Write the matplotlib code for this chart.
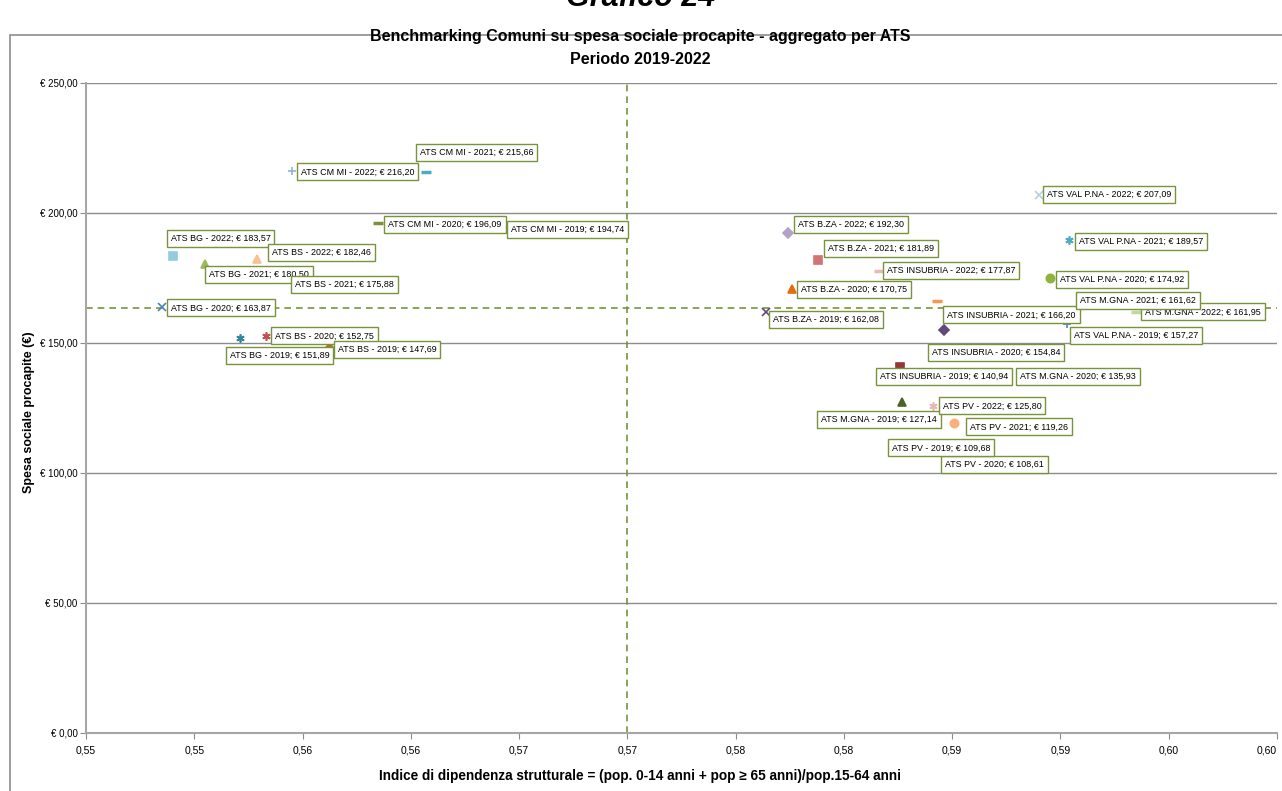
import matplotlib
matplotlib.use("Agg")
import matplotlib.pyplot as plt
from matplotlib.patches import Rectangle

plt.rcParams['font.family'] = ['Liberation Sans', 'DejaVu Sans']

# data: one point per ATS and year
ats_names = ["ATS CM MI", "ATS CM MI", "ATS CM MI", "ATS CM MI",
             "ATS BG", "ATS BG", "ATS BG", "ATS BG",
             "ATS BS", "ATS BS", "ATS BS", "ATS BS",
             "ATS B.ZA", "ATS B.ZA", "ATS B.ZA", "ATS B.ZA",
             "ATS INSUBRIA", "ATS INSUBRIA", "ATS INSUBRIA", "ATS INSUBRIA",
             "ATS VAL P.NA", "ATS VAL P.NA", "ATS VAL P.NA", "ATS VAL P.NA",
             "ATS M.GNA", "ATS M.GNA", "ATS M.GNA", "ATS M.GNA",
             "ATS PV", "ATS PV", "ATS PV", "ATS PV"]
years = [2022, 2021, 2020, 2019] * 8
indice = [0.5545, 0.5607, 0.5585, 0.5641,
          0.5490, 0.5505, 0.5485, 0.5521,
          0.5529, 0.5542, 0.5533, 0.5562,
          0.5774, 0.5788, 0.5776, 0.5764,
          0.5816, 0.5843, 0.5846, 0.5826,
          0.5890, 0.5904, 0.5895, 0.5903,
          0.5935, 0.5902, 0.5867, 0.5827,
          0.5841, 0.5851, 0.5842, 0.5829]
spesa = [216.20, 215.66, 196.09, 194.74,
         183.57, 180.50, 163.87, 151.89,
         182.46, 175.88, 152.75, 147.69,
         192.30, 181.89, 170.75, 162.08,
         177.87, 166.20, 154.84, 140.94,
         207.09, 189.57, 174.92, 157.27,
         161.95, 161.62, 135.93, 127.14,
         125.80, 119.26, 108.61, 109.68]

ref_x = 0.570
ref_y = 163.3

xticks = [0.545, 0.550, 0.555, 0.560, 0.565, 0.570, 0.575, 0.580, 0.585, 0.590, 0.595, 0.600]
xtick_labels = ["0,55", "0,55", "0,56", "0,56", "0,57", "0,57", "0,58", "0,58", "0,59", "0,59", "0,60", "0,60"]
yticks = [0, 50, 100, 150, 200, 250]

# styles
ast = (6, 2, 0)
markers = ['+', '_', '_', 'D',
           's', '^', 'x', ast,
           '^', ast, ast, 'o',
           'D', 's', '^', 'x',
           '_', '_', 'D', 's',
           'x', ast, 'o', '+',
           '_', 'D', 's', '^',
           ast, 'o', '|', '_']
colors = ['#95B3D7', '#4BACC6', '#77933C', '#376092',
          '#93CDDD', '#9BBB59', '#4F81BD', '#31859C',
          '#FAC090', '#B3A2C7', '#C0504D', '#B8692A',
          '#B3A2C7', '#D07573', '#E46C0A', '#604A7B',
          '#E6B9B8', '#F79646', '#604A7B', '#953735',
          '#B9CDE5', '#4BACC6', '#8DB43E', '#4F81BD',
          '#C3D69B', '#4F81BD', '#31859C', '#4F6228',
          '#E6B9B8', '#FAB07A', '#604A7B', '#C0504D']
# label offsets (pixels: box left from marker, box centre above marker)
offsets = [(6, -1), (-9, 20), (7, -1), (8, -3),
           (-5, 17), (1, -11), (6, -1), (-13, -17),
           (12, 6), (7, -9), (6, 0), (6, 0),
           (7, 9), (7, 12), (6, 0), (4, -8),
           (5, 0), (7, -14), (-15, -22), (-23, -10),
           (5, 0), (7, -1), (7, -1), (4, -11),
           (6, 0), (12, 12), (28, 3), (-84, -17),
           (7, 0), (13, -4), (7, -14), (-18, 0)]

fig = plt.figure(figsize=(12.82, 7.91), dpi=100)
ax = fig.add_axes([86 / 1282, 58 / 791, (1277 - 86) / 1282, (733 - 83) / 791])

# outer chart frame
fig.patches.append(Rectangle((10 / 1282, -0.01), 1.0, (791 - 35) / 791 + 0.01,
                             transform=fig.transFigure, fill=False,
                             edgecolor='#8C8C8C', linewidth=1.2))

fig.text(0.5, (791 - 6) / 791, "Grafico 24", ha='center', va='baseline',
         fontsize=22, fontstyle='italic', fontweight='bold')
fig.text(640 / 1282, (791 - 37) / 791, "Benchmarking Comuni su spesa sociale procapite - aggregato per ATS",
         ha='center', va='center', fontsize=11.5, fontweight='bold')
fig.text(640 / 1282, (791 - 60) / 791, "Periodo 2019-2022",
         ha='center', va='center', fontsize=11.5, fontweight='bold')

ax.set_xlim(0.545, 0.600)
ax.set_ylim(0, 250)
ax.set_xticks(xticks)
ax.set_xticklabels(xtick_labels, fontsize=7.5)
ax.get_xticklabels()[-1].set_horizontalalignment('right')
ax.set_yticks(yticks)
ax.set_yticklabels(["€ %d,00" % v for v in yticks], fontsize=7)
ax.tick_params(axis='x', length=4, color='#8C8C8C', pad=5)
ax.tick_params(axis='y', length=4, color='#8C8C8C', pad=2)
ax.grid(axis='y', color='#8C8C8C', linewidth=1)
ax.set_axisbelow(True)
for s in ['top', 'right']:
    ax.spines[s].set_visible(False)
for s in ['left', 'bottom']:
    ax.spines[s].set_color('#A6A6A6')
    ax.spines[s].set_linewidth(1.5)

ax.axhline(ref_y, color='#77933C', linestyle='--', linewidth=1.2, dashes=(4, 3), zorder=2)
ax.axvline(ref_x, color='#77933C', linestyle='--', linewidth=1.2, dashes=(4, 3), zorder=2)

for i in range(len(spesa)):
    m = markers[i]
    lw = 2.5 if m in ['_', '|'] else 1.2
    ms = 7 if m in ['_', '|'] else (5 if m == 'D' else 6)
    ax.plot(indice[i], spesa[i], linestyle='none', marker=m, color=colors[i],
            markersize=ms, markeredgewidth=lw, zorder=3)
    txt = "%s - %d; € %s" % (ats_names[i], years[i], ("%.2f" % spesa[i]).replace('.', ','))
    dx, dy = offsets[i]
    ax.annotate(txt, (indice[i], spesa[i]), xytext=((dx + 3) * 0.72, dy * 0.72),
                textcoords='offset points', ha='left', va='center', fontsize=6.4,
                bbox=dict(boxstyle='square,pad=0.45', facecolor='white',
                          edgecolor='#77933C', linewidth=1), zorder=4)

fig.text(29 / 1282, (791 - 412) / 791, "Spesa sociale procapite (€)", rotation=90,
         ha='center', va='center', fontsize=9, fontweight='bold')
fig.text(640 / 1282, (791 - 776) / 791,
         "Indice di dipendenza strutturale = (pop. 0-14 anni + pop ≥ 65 anni)/pop.15-64 anni",
         ha='center', va='center', fontsize=9.8, fontweight='bold')

fig.savefig("out.png", dpi=100)
